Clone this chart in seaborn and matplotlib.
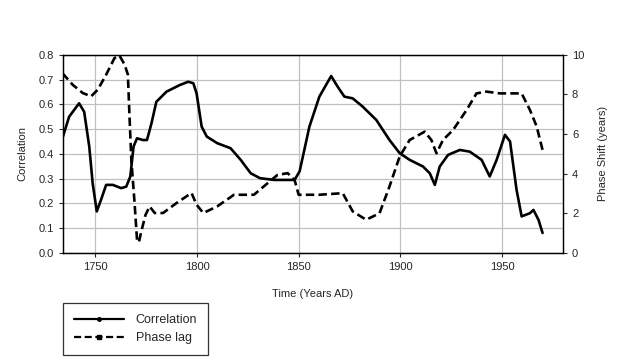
import numpy as np
import pandas as pd
import seaborn as sns
import matplotlib.pyplot as plt
from matplotlib.lines import Line2D

# datos
corr_year = [1733.8, 1737.1, 1742, 1744.5, 1747, 1748.7, 1750.7, 1752.8, 1755.3, 1758.6,
             1762.7, 1765.2, 1767.2, 1768.8, 1770.5, 1773.4, 1775.4, 1777.6, 1780, 1785,
             1791.6, 1795.7, 1798.2, 1799.8, 1802.3, 1804.8, 1810, 1816.5, 1821.5,
             1826.4, 1831, 1838, 1848, 1850.5, 1855.3, 1860.2, 1866, 1869.2, 1872.5,
             1876.6, 1881.6, 1888.2, 1894.7, 1899.7, 1904.6, 1911.2, 1914.5, 1917,
             1919.4, 1923.5, 1929.3, 1934.2, 1940, 1944, 1947.4, 1951.5, 1954, 1957.2,
             1959.7, 1963.8, 1965.5, 1968, 1970]
corr_val = [0.463, 0.55, 0.604, 0.57, 0.43, 0.28, 0.168, 0.215, 0.275, 0.275,
            0.262, 0.268, 0.309, 0.43, 0.463, 0.456, 0.456, 0.523, 0.61, 0.651,
            0.678, 0.691, 0.685, 0.644, 0.51, 0.47, 0.443, 0.423, 0.376,
            0.322, 0.302, 0.295, 0.295, 0.33, 0.51, 0.631, 0.714, 0.671, 0.631,
            0.624, 0.59, 0.537, 0.456, 0.403, 0.376, 0.349, 0.322, 0.275,
            0.349, 0.396, 0.416, 0.409, 0.376, 0.309, 0.376, 0.477, 0.45, 0.255,
            0.148, 0.161, 0.174, 0.134, 0.081]

lag_year = [1733.8, 1738.8, 1743.8, 1747.9, 1751.2, 1755.3, 1759.4, 1761.9, 1764.4, 1766,
            1766.8, 1767.7, 1769.3, 1770.5, 1771.4, 1772.6, 1774.7, 1776.7, 1779.2, 1783.3,
            1789.9, 1797.3, 1799.8, 1803.1, 1809.9, 1818.2, 1828, 1834.7, 1839.6, 1844.6,
            1848, 1850, 1856, 1860.2, 1871.7, 1876.6, 1883.2, 1889.8, 1894.7, 1899.7,
            1904.6, 1912, 1915.3, 1917.8, 1921, 1926, 1932.6, 1937.5, 1942.4, 1949,
            1959.7, 1963.8, 1967.1, 1970.4]
lag_val = [9.07, 8.49, 8.07, 7.9, 8.24, 8.99, 9.83, 9.95, 9.5, 9.0,
           6.9, 4.7, 2.52, 0.67, 0.54, 1.09, 1.93, 2.35, 2.02, 2.02,
           2.52, 3.03, 2.44, 2.02, 2.35, 2.94, 2.94, 3.52, 3.94, 4.03,
           3.69, 2.94, 2.94, 2.94, 3.02, 2.1, 1.68, 2.01, 3.36, 4.87,
           5.7, 6.12, 5.7, 5.03, 5.7, 6.21, 7.21, 8.05, 8.14, 8.05,
           8.05, 7.21, 6.38, 5.03]

corr_df = pd.DataFrame({"Year": corr_year, "Correlation": corr_val})
lag_df = pd.DataFrame({"Year": lag_year, "Phase": lag_val})

sns.set_style("white")
plt.rcParams['font.family'] = ['Liberation Sans', 'DejaVu Sans']
plt.rcParams['font.size'] = 8

dash = (0, (3.2, 1.6))

fig = plt.figure(figsize=(6.22, 3.6), dpi=100)
ax = fig.add_axes([0.101, 0.297, 0.804, 0.551])
ax2 = ax.twinx()

sns.lineplot(data=corr_df, x="Year", y="Correlation", ax=ax, color="black",
             linewidth=1.9, legend=False)
sns.lineplot(data=lag_df, x="Year", y="Phase", ax=ax2, color="black",
             linewidth=1.9, linestyle=dash, legend=False)

ax.set_xlim(1734, 1980)
ax.set_ylim(0, 0.8)
ax.set_yticks(np.arange(0, 0.81, 0.1))
ax.set_yticklabels([f"{v:.1f}" for v in np.arange(0, 0.81, 0.1)])
ax.set_xticks([1750, 1800, 1850, 1900, 1950])
ax2.set_ylim(0, 10)
ax2.set_yticks([0, 2, 4, 6, 8, 10])

ax.grid(True, color="#c0c0c0", linewidth=0.9)
ax.set_axisbelow(True)
for a in (ax, ax2):
    for s in a.spines.values():
        s.set_color("black")
        s.set_linewidth(0.9)
ax.tick_params(axis="both", direction="out", length=3, width=0.8, labelsize=8, left=True, bottom=True)
ax2.tick_params(axis="y", direction="out", length=3, width=0.8, labelsize=8, right=True)

ax.set_xlabel("Time (Years AD)", fontsize=8, labelpad=12)
ax.set_ylabel("Correlation", fontsize=8, labelpad=8)
ax2.set_ylabel("Phase Shift (years)", fontsize=8, labelpad=10)

handles = [Line2D([], [], color="black", linewidth=1.6, marker="o", markersize=2.5),
           Line2D([], [], color="black", linewidth=1.6, linestyle=dash, marker="s", markersize=3)]
leg = fig.legend(handles, ["Correlation", "Phase lag"], loc="upper left",
                 bbox_to_anchor=(63 / 622, 1 - 303 / 360), borderaxespad=0,
                 frameon=True, fancybox=False, edgecolor="black", fontsize=9,
                 handlelength=4.0, handletextpad=0.9, borderpad=0.9, labelspacing=0.45,
                 numpoints=1)
leg.get_frame().set_linewidth(0.9)

plt.savefig("out.png", dpi=100)
